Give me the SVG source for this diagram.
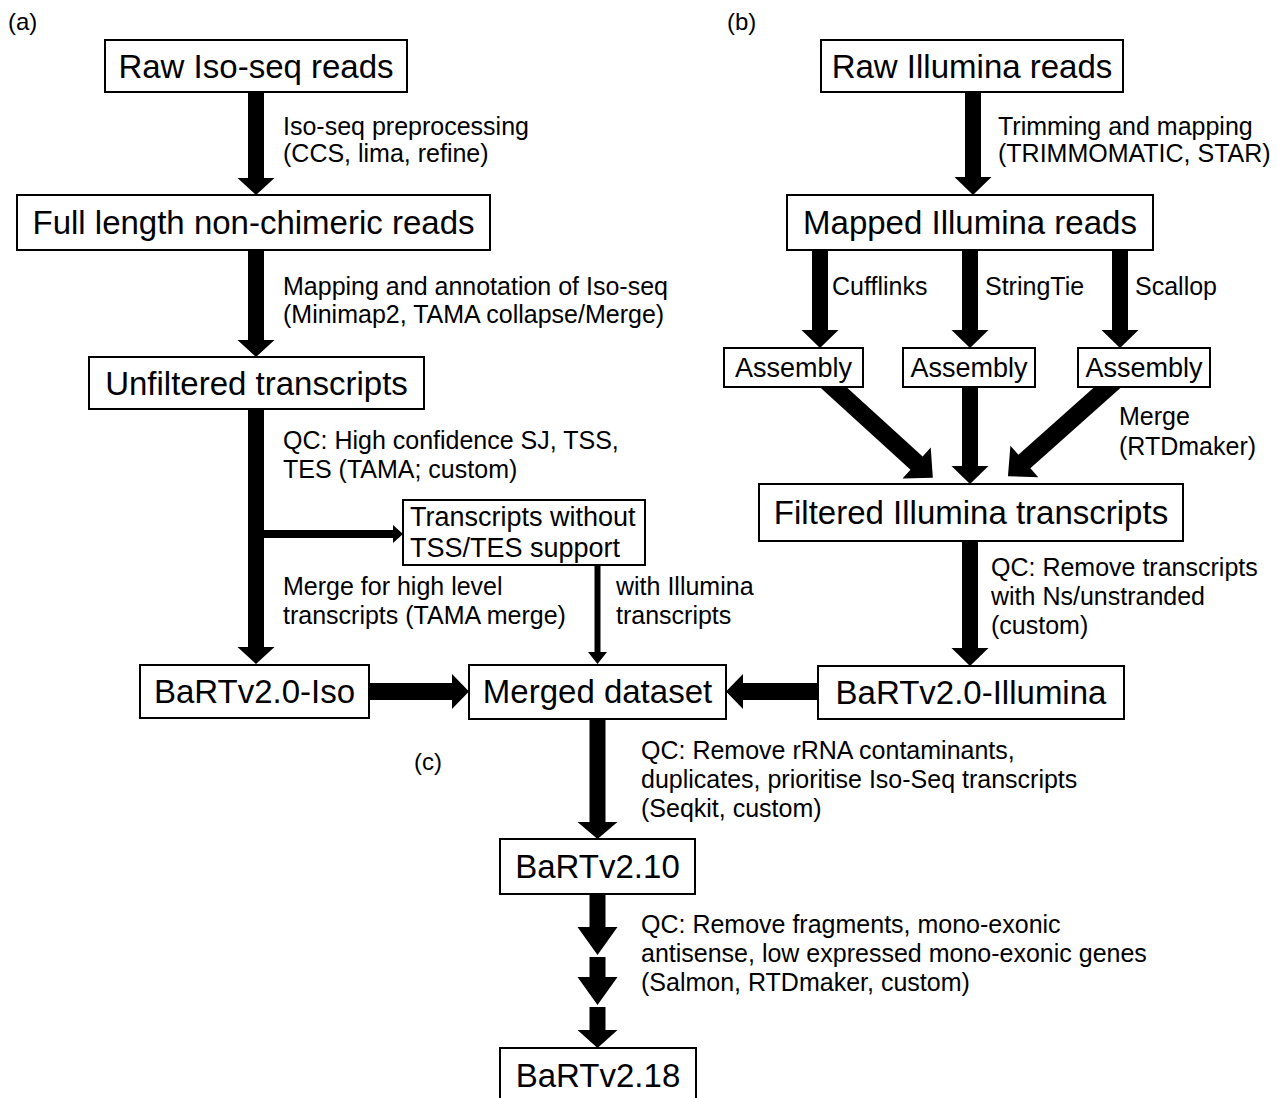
<svg xmlns="http://www.w3.org/2000/svg" width="1277" height="1098" viewBox="0 0 1277 1098">
<style>
text{font-family:"Liberation Sans",Arial,Helvetica,sans-serif;fill:#000}
.n{font-size:33px;text-anchor:middle}
.s{font-size:27px}
.l{font-size:25px}
.p{font-size:24px}
.box{fill:#fff;stroke:#000;stroke-width:2}
.ar{fill:#000;stroke:none}
</style>
<rect width="1277" height="1098" fill="#fff"/>
<g id="panel-labels">
<text class="p" x="8" y="30">(a)</text>
<text class="p" x="727" y="30">(b)</text>
<text class="p" x="414" y="770">(c)</text>
</g>
<g id="connectors">
<polygon class="ar" points="248,92 264,92 264,178 274.5,178 256,195 237.5,178 248,178"/>
<polygon class="ar" points="248,250 264,250 264,340 274.5,340 256,357 237.5,340 248,340"/>
<polygon class="ar" points="248,409 264,409 264,647 274.5,647 256,664 237.5,647 248,647"/>
<rect class="ar" x="256" y="530" width="138" height="8"/>
<polygon class="ar" points="393,525 403,534 393,543"/>
<polygon class="ar" points="594.5,565 600.5,565 600.5,652 607,652 597.5,664 588,652 594.5,652"/>
<polygon class="ar" points="369,683 452,683 452,674 469,691.5 452,709 452,700 369,700"/>
<polygon class="ar" points="818,683 743,683 743,674 726,691.5 743,709 743,700 818,700"/>
<polygon class="ar" points="589.5,719 605.5,719 605.5,822 617.5,822 597.5,839 577.5,822 589.5,822"/>
<polygon class="ar" points="589.5,894 605.5,894 605.5,927 617.5,927 597.5,955 577.5,927 589.5,927"/>
<polygon class="ar" points="589.5,957 605.5,957 605.5,977 617.5,977 597.5,1005 577.5,977 589.5,977"/>
<polygon class="ar" points="589.5,1007 605.5,1007 605.5,1030 617.5,1030 597.5,1048 577.5,1030 589.5,1030"/>
<polygon class="ar" points="965,92 981,92 981,177 991.5,177 973,195 954.5,177 965,177"/>
<polygon class="ar" points="812,250 828,250 828,330 838.5,330 820,348 801.5,330 812,330"/>
<polygon class="ar" points="962,250 978,250 978,330 988.5,330 970,348 951.5,330 962,330"/>
<polygon class="ar" points="1112,250 1128,250 1128,330 1138.5,330 1120,348 1101.5,330 1112,330"/>
<polygon class="ar" points="962,387 978,387 978,466 988.5,466 970,484 951.5,466 962,466"/>
<polygon class="ar" points="962,541 978,541 978,648 988.5,648 970,666 951.5,648 962,648"/>
<polygon class="ar" transform="translate(833,387) rotate(42.3)" points="-12,-9 113,-9 113,-21 135,0 113,21 113,9 -12,9"/>
<polygon class="ar" transform="translate(1108,387) rotate(138.3)" points="-12,-9 112,-9 112,-21 134,0 112,21 112,9 -12,9"/>
</g>
<g id="edge-labels">
<text class="l" x="283" y="135">Iso-seq preprocessing</text>
<text class="l" x="283" y="162">(CCS, lima, refine)</text>
<text class="l" x="283" y="295">Mapping and annotation of Iso-seq</text>
<text class="l" x="283" y="323">(Minimap2, TAMA collapse/Merge)</text>
<text class="l" x="283" y="449">QC: High confidence SJ, TSS,</text>
<text class="l" x="283" y="478">TES (TAMA; custom)</text>
<text class="l" x="283" y="595">Merge for high level</text>
<text class="l" x="283" y="624">transcripts (TAMA merge)</text>
<text class="l" x="616" y="595">with Illumina</text>
<text class="l" x="616" y="624">transcripts</text>
<text class="l" x="998" y="135">Trimming and mapping</text>
<text class="l" x="998" y="162">(TRIMMOMATIC, STAR)</text>
<text class="l" x="832" y="295">Cufflinks</text>
<text class="l" x="985" y="295">StringTie</text>
<text class="l" x="1135" y="295">Scallop</text>
<text class="l" x="1119" y="425">Merge</text>
<text class="l" x="1119" y="455">(RTDmaker)</text>
<text class="l" x="991" y="576">QC: Remove transcripts</text>
<text class="l" x="991" y="605">with Ns/unstranded</text>
<text class="l" x="991" y="634">(custom)</text>
<text class="l" x="641" y="759">QC: Remove rRNA contaminants,</text>
<text class="l" x="641" y="788">duplicates, prioritise Iso-Seq transcripts</text>
<text class="l" x="641" y="817">(Seqkit, custom)</text>
<text class="l" x="641" y="933">QC: Remove fragments, mono-exonic</text>
<text class="l" x="641" y="962">antisense, low expressed mono-exonic genes</text>
<text class="l" x="641" y="991">(Salmon, RTDmaker, custom)</text>
</g>
<g id="node-raw-iso"><rect class="box" x="105" y="40" width="302" height="52"/><text class="n" x="256" y="78">Raw Iso-seq reads</text></g>
<g id="node-full-length"><rect class="box" x="17" y="195" width="473" height="55"/><text class="n" x="253.5" y="234">Full length non-chimeric reads</text></g>
<g id="node-unfiltered"><rect class="box" x="89" y="357" width="335" height="52"/><text class="n" x="256.5" y="395">Unfiltered transcripts</text></g>
<g id="node-no-support"><rect class="box" x="403" y="500" width="242" height="65"/><text class="s" x="410" y="526">Transcripts without</text><text class="s" x="410" y="557">TSS/TES support</text></g>
<g id="node-bart-iso"><rect class="box" x="140" y="665" width="229" height="53"/><text class="n" x="254.5" y="703">BaRTv2.0-Iso</text></g>
<g id="node-merged"><rect class="box" x="469" y="665" width="257" height="54"/><text class="n" x="597.5" y="703">Merged dataset</text></g>
<g id="node-bart-illumina"><rect class="box" x="818" y="666" width="306" height="53"/><text class="n" x="971" y="704">BaRTv2.0-Illumina</text></g>
<g id="node-raw-illumina"><rect class="box" x="821" y="40" width="302" height="52"/><text class="n" x="972" y="78">Raw Illumina reads</text></g>
<g id="node-mapped"><rect class="box" x="787" y="195" width="366" height="55"/><text class="n" x="970" y="234">Mapped Illumina reads</text></g>
<g id="node-assembly-1"><rect class="box" x="724" y="348" width="139" height="39"/><text class="s" x="793.5" y="377" text-anchor="middle">Assembly</text></g>
<g id="node-assembly-2"><rect class="box" x="903" y="348" width="132" height="39"/><text class="s" x="969" y="377" text-anchor="middle">Assembly</text></g>
<g id="node-assembly-3"><rect class="box" x="1078" y="348" width="132" height="39"/><text class="s" x="1144" y="377" text-anchor="middle">Assembly</text></g>
<g id="node-filtered"><rect class="box" x="759" y="484" width="424" height="57"/><text class="n" x="971" y="524">Filtered Illumina transcripts</text></g>
<g id="node-bart210"><rect class="box" x="500" y="839" width="195" height="55"/><text class="n" x="597.5" y="878">BaRTv2.10</text></g>
<g id="node-bart218"><rect class="box" x="500" y="1048" width="196" height="60"/><text class="n" x="598" y="1087">BaRTv2.18</text></g>
</svg>
